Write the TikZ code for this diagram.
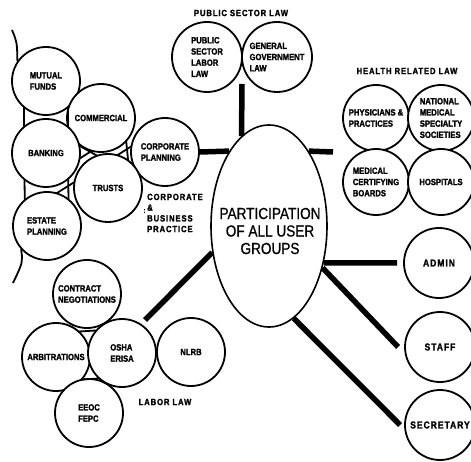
\documentclass[tikz,border=0pt]{standalone}
\usepackage{fontspec}
\setmainfont{Liberation Sans}
\newfontfamily\lblfont[FakeStretch=0.85,FakeBold=1.6]{Liberation Sans Bold}
\newfontfamily\ttlfont[FakeStretch=0.85,LetterSpace=10,FakeBold=1.6]{Liberation Sans Bold}
\newfontfamily\ctrfont[FakeStretch=0.85,FakeBold=0.8]{Liberation Sans}
\usetikzlibrary{calc,shapes.geometric}

% one short bridging stroke between two touching topic circles
\newcommand\bridgeseg[4]{%
  \draw[bridgeline] ($(#1)!\topicr!#3:(#2)$) -- ($(#2)!\topicr!#4:(#1)$);}
\newcommand\topicr{34pt}

\tikzset{
  topic/.style={circle, draw, line width=1.8pt, fill=white, minimum size=68pt,
    inner sep=0pt, align=left, font=\lblfont\fontsize{9}{11.2}\selectfont},
  bigtopic/.style={topic, minimum size=70pt},
  smalltopic/.style={topic, minimum size=66pt},
  roletopic/.style={topic, minimum size=70pt, font=\ttlfont\fontsize{10}{12}\selectfont},
  grouptitle/.style={inner sep=0pt, align=left, font=\ttlfont\fontsize{9}{10.7}\selectfont},
  hub/.style={ellipse, draw, line width=1.6pt, fill=white, minimum width=116pt,
    minimum height=202pt, inner sep=0pt},
  hubtext/.style={inner sep=0pt, align=center, font=\ctrfont\fontsize{16}{17.5}\selectfont},
  link/.style={line width=5.5pt},
  bridgeline/.style={line width=1.8pt},
  rim/.style={line width=1.8pt}
}

\begin{document}
\begin{tikzpicture}[x=1pt,y=-1pt]
\useasboundingbox (0,0) rectangle (471,462);

% central hub
\node[hub] (ell) at (269,226) {};
\node[hubtext] (ctr) at (270,231) {PARTICIPATION\\OF ALL USER\\GROUPS};

% corporate and business practice
\node[topic] (mutual)  at (46,81)   {MUTUAL\\FUNDS};
\node[topic] (comm)    at (101,118) {COMMERCIAL};
\node[topic] (banking) at (46,153)  {BANKING};
\node[topic] (corp)    at (165,152) {CORPORATE\\PLANNING};
\node[topic] (trusts)  at (108,188) {TRUSTS};
\node[topic] (estate)  at (47,226)  {ESTATE\\PLANNING};
\node[grouptitle, anchor=west] (cbp) at (147,213) {CORPORATE\\\&\\BUSINESS\\PRACTICE};
\node[inner sep=0pt, font=\lblfont\fontsize{7}{7}\selectfont] (cbpmark) at (144.5,211) {:};

% outer rim of the corporate cluster
\coordinate (rimtop) at (12,30);
\coordinate (rimbot) at (13,283);
\draw[rim] (rimtop) .. controls (17,42) .. (mutual.145);
\draw[rim] (estate.222) .. controls (23,262) .. (rimbot);

% public sector law
\node[grouptitle] (pslaw) at (241,13) {PUBLIC SECTOR LAW};
\node[bigtopic] (pslabor) at (207,57) {PUBLIC\\SECTOR\\LABOR\\LAW};
\node[bigtopic] (govlaw)  at (277,57) {GENERAL\\GOVERNMENT\\LAW};

% health related law
\node[grouptitle] (hlaw) at (407,71) {HEALTH RELATED LAW};
\node[smalltopic] (phys)  at (376,118) {PHYSICIANS \&\\PRACTICES};
\node[smalltopic] (natl)  at (441,118) {NATIONAL\\MEDICAL\\SPECIALTY\\SOCIETIES};
\node[smalltopic] (cert)  at (376,182) {MEDICAL\\CERTIFYING\\BOARDS};
\node[smalltopic] (hosp)  at (441,182) {HOSPITALS};

% staff roles
\node[roletopic] (admin)     at (439,263) {ADMIN};
\node[roletopic] (staff)     at (440,347) {STAFF};
\node[roletopic] (secretary) at (440,425) {SECRETARY};

% labor law
\node[topic] (contract) at (87,294)  {CONTRACT\\NEGOTIATIONS};
\node[topic] (arb)      at (56,357)  {ARBITRATIONS};
\node[topic] (osha)     at (122,353) {OSHA\\ERISA};
\node[topic] (nlrb)     at (191,352) {NLRB};
\node[topic] (eeoc)     at (89,413)  {EEOC\\FEPC};
\node[grouptitle] (laborlaw) at (165,402) {LABOR LAW};

% bridges between touching circles
\bridgeseg{mutual}{banking}{40}{-40}
\bridgeseg{mutual}{banking}{-40}{40}
\bridgeseg{banking}{estate}{40}{-40}
\bridgeseg{banking}{estate}{-40}{40}
\bridgeseg{banking}{comm}{-42}{42}
\bridgeseg{banking}{trusts}{42}{-42}
\bridgeseg{comm}{trusts}{42}{-42}
\bridgeseg{trusts}{corp}{42}{-42}
\bridgeseg{trusts}{estate}{-42}{42}
\bridgeseg{arb}{osha}{45}{-45}
\bridgeseg{arb}{osha}{-45}{45}

% connectors to the hub
\coordinate (pubstem)    at (242,84);
\coordinate (healthstub) at (333,152);
\coordinate (laborend)   at (145,320);
\draw[link] (pubstem) -- (ell.107);
\draw[link] (corp.east) -- (ell.118);
\draw[link] (ell.62) -- (healthstub);
\draw[link] (ell.-34) -- ([xshift=-6pt]admin.west);
\draw[link] (ell.-38) -- ([xshift=-6pt]staff.west);
\draw[link] (ell.-75) -- ([xshift=-4pt]secretary.west);
\draw[link] (ell.205) -- (laborend);
\end{tikzpicture}
\end{document}
